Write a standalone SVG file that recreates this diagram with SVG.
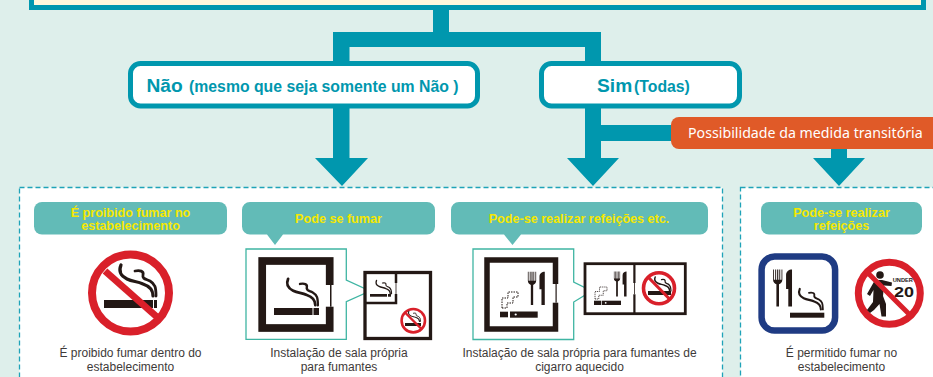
<svg xmlns="http://www.w3.org/2000/svg" width="933" height="377" viewBox="0 0 933 377">
<style>
text{font-family:"Liberation Sans",Arial,sans-serif}
.cap{font-size:12px;fill:#3e3a39;text-anchor:middle}
.hd{font-size:12.6px;font-weight:700;fill:#f5e800;text-anchor:middle}
.tag{fill:#62bbb7}
.teal{fill:#0097ae}
.opt{fill:#fff;stroke:#0097ae;stroke-width:5}
.big{font-size:19.2px;font-weight:700;fill:#0097ae}
.mid{font-size:15.8px;font-weight:700;fill:#0097ae}
.panel{fill:#fff;stroke:#1fa3b8;stroke-width:1.3;stroke-dasharray:5 3}
.k{fill:#231815}
.fr{fill:#fff;stroke:#231815}
.call{fill:#fff;stroke:#3fb5a3;stroke-width:1.3}
.ban{fill:none;stroke:#d9202a}
.smoke{fill:none;stroke:#231815;stroke-linecap:round;stroke-linejoin:round}
.dots{fill:none;stroke:#231815;stroke-width:1;stroke-dasharray:1.5 1}
</style>
<defs>
<g id="smk">
<path class="smoke" stroke-width="3.200" d="M-14-19C-17-12-14-8-8-5C-2-2 2-3 8 0C14 2 18 5 18 12"/>
<path class="smoke" stroke-width="2.800" d="M0-13C5-14 9-13 8-9C7-5 11-5 15-3C20 0 21 3 21 12"/>
</g>
<g id="fork">
<path class="k" d="M-5-20H-4.100V-9H-2.700V-20H-1.700V-9H-.6V-20H.6V-9H1.700V-20H2.700V-9H4.100V-20H5V-9C5-6 3-5 1.400-4V20H-1.400V-4C-3-5-5-6-5-9z"/>
<path class="k" d="M9-14C9-18 12-20 15.400-20V20H11.400V1H9z"/>
</g>
<path id="heat" class="dots" d="M-8 8V-2H-2V-8H8V-3H3V3H-3V8z"/>
</defs>
<rect width="933" height="377" fill="#deefeb"/>
<g id="connectors">
<rect class="teal" x="433" y="8" width="16" height="26"/>
<path class="teal" d="M333 32H601V64H585V47H349.500V64H333z"/>
<path class="teal" d="M333 104H349.500V158H368L342 186L315 158H333z"/>
<path class="teal" d="M585 104H601V125H680V141H601V158H619L593 186L567 158H585z"/>
<path class="teal" d="M831 145H847V158H865L839 186L813 158H831z"/>
</g>
<g id="top-box"><rect x="31.500" y="-20" width="892" height="27.500" fill="#fff8dc" stroke="#0097ae" stroke-width="5"/></g>
<g id="no"><rect class="opt" x="130.500" y="63.500" width="347" height="42.500" rx="10"/>
<text class="big" x="146.500" y="92">Não</text>
<text class="mid" x="189" y="92">(mesmo que seja somente um Não )</text></g>
<g id="yes"><rect class="opt" x="541.500" y="63.500" width="198" height="42.500" rx="10"/>
<text class="big" x="597" y="92">Sim</text>
<text class="mid" x="634" y="92">(Todas)</text></g>
<g id="transitional"><rect x="671" y="117" width="270" height="32" rx="8" fill="#e05a28"/>
<text x="688" y="138" font-size="14.200" fill="#fff" style="font-family:'Noto Sans',sans-serif">Possibilidade da medida transitória</text></g>
<rect class="panel" x="19.500" y="187.500" width="703" height="200"/>
<rect class="panel" x="740.500" y="187.500" width="210" height="200"/>
<g id="n1">
<rect class="tag" x="34" y="202" width="193" height="32.500" rx="8"/>
<text class="hd" x="130.500" y="217">É proibido fumar no</text>
<text class="hd" x="130.500" y="230">estabelecimento</text>
<circle cx="130.500" cy="293" r="38.500" fill="#fff" stroke="#d9202a" stroke-width="8"/>
<use href="#smk" transform="translate(135 284)"/>
<rect class="k" x="104" y="300" width="49" height="8"/><rect class="k" x="154" y="300" width="3" height="8"/>
<line x1="105" y1="271" x2="157" y2="317" stroke="#d9202a" stroke-width="7"/>
<text class="cap" x="130.500" y="357">É proibido fumar dentro do</text>
<text class="cap" x="130.500" y="371">estabelecimento</text>
</g>
<g id="n2">
<path class="tag" d="M250 202H427a8 8 0 0 1 8 8V226.500a8 8 0 0 1-8 8H283L275 245L267 234.500H250a8 8 0 0 1-8-8V210a8 8 0 0 1 8-8z"/>
<text class="hd" x="338.500" y="222.500">Pode se fumar</text>
<path class="call" d="M246 249H346.300V280L370 291L346.300 301.700V339.300H246z"/>
<rect class="fr" x="262.200" y="261" width="67.500" height="67" stroke-width="7.700"/>
<rect x="325" y="285" width="10" height="21.700" fill="#fff"/><rect class="k" x="330" y="285" width="1.500" height="21.700"/>
<use href="#smk" transform="translate(300 295)scale(.85)"/>
<rect class="k" x="274" y="308" width="38.500" height="7"/><rect class="k" x="313.500" y="308" width="5.500" height="7"/>
<rect x="365" y="272.500" width="65.500" height="66" fill="#fff" stroke="#231815" stroke-width="3.300"/>
<path d="M365 303H396V272" fill="none" stroke="#231815" stroke-width="2.500"/>
<rect x="394" y="283" width="4" height="11" fill="#fff"/><rect class="k" x="395.600" y="283" width=".8" height="11"/>
<use href="#smk" transform="translate(382.500 288.600)scale(.43)"/>
<rect class="k" x="370" y="294" width="17" height="2.700"/><rect class="k" x="388" y="294" width="3" height="2.700"/>
<circle class="ban" cx="413.300" cy="320.700" r="11.700" stroke-width="2.600"/>
<use href="#smk" transform="translate(413.500 317.500)scale(.33)"/>
<rect class="k" x="405" y="323" width="16" height="3"/>
<line x1="405" y1="312.500" x2="421.500" y2="329" stroke="#d9202a" stroke-width="2.400"/>
<text class="cap" x="339" y="357">Instalação de sala própria</text>
<text class="cap" x="339" y="371">para fumantes</text>
</g>
<g id="n3">
<path class="tag" d="M459 202H700a8 8 0 0 1 8 8V226.500a8 8 0 0 1-8 8H521L512.500 245L504 234.500H459a8 8 0 0 1-8-8V210a8 8 0 0 1 8-8z"/>
<text class="hd" x="579" y="222.500">Pode-se realizar refeições etc.</text>
<path class="call" d="M473 249H573.700V282L591.700 291L573.700 302V339.500H473z"/>
<rect class="fr" x="487" y="260" width="68.500" height="69" stroke-width="5.500"/>
<rect x="552" y="284" width="8" height="18.700" fill="#fff"/><rect class="k" x="555.500" y="284" width="1.200" height="18.700"/>
<use href="#fork" transform="translate(532 288.300)scale(.83)"/>
<use href="#heat" transform="translate(510 300)"/>
<rect class="k" x="500" y="311.700" width="8" height="5.600"/><rect class="k" x="510" y="311.500" width="27.700" height="6.200"/>
<circle cx="515.700" cy="314.500" r="1.100" fill="#fff"/>
<rect class="fr" x="585" y="263.700" width="100.300" height="50" stroke-width="2.800"/>
<rect class="k" x="633.300" y="263" width="2.200" height="51"/>
<rect x="633" y="283" width="3" height="11.300" fill="#fff"/><rect class="k" x="634" y="283" width=".8" height="11.300"/>
<use href="#fork" transform="translate(617 284)scale(.62)"/>
<use href="#heat" transform="translate(601 293)scale(.75)"/>
<rect class="k" x="594" y="300.700" width="7" height="4.300"/><rect class="k" x="601.700" y="300.700" width="19.300" height="4.300"/>
<circle cx="605.700" cy="302.800" r=".9" fill="#fff"/>
<circle class="ban" cx="659" cy="288.300" r="15.500" stroke-width="3.600"/>
<use href="#smk" transform="translate(661.500 285.500)scale(.45)"/>
<rect class="k" x="648" y="291" width="23" height="4"/>
<line x1="648" y1="277" x2="670" y2="299.500" stroke="#d9202a" stroke-width="3.200"/>
<text class="cap" x="579.500" y="357">Instalação de sala própria para fumantes de</text>
<text class="cap" x="579.500" y="371">cigarro aquecido</text>
</g>
<g id="n4">
<rect class="tag" x="761" y="202" width="161" height="32.500" rx="8"/>
<text class="hd" x="841.500" y="217">Pode-se realizar</text>
<text class="hd" x="841.500" y="230">refeições</text>
<rect x="761.600" y="256.600" width="73.500" height="74" rx="13" fill="#fff" stroke="#1f3b83" stroke-width="6.500"/>
<use href="#fork" transform="translate(777.700 288)scale(.93)"/>
<use href="#smk" transform="translate(809 301.500)scale(.66)"/>
<rect class="k" x="790" y="312.700" width="34.300" height="5"/>
<circle cx="889.300" cy="293.300" r="31" fill="#fff" stroke="#d9202a" stroke-width="7"/>
<circle class="k" cx="880" cy="275" r="3.800"/>
<path class="k" d="M875 280L882 280L892 282.500L891.500 286L884 285.500L883 296L886 304L886 316.500L881.500 316.500L879.500 304L874 310L870 313L867 310L873 302L873.500 290L870 296L867 294z"/>
<text x="892.700" y="281.800" font-size="5.700" font-weight="700" fill="#231815">UNDER</text>
<text x="894" y="297" font-size="15" font-weight="700" fill="#231815" textLength="20" lengthAdjust="spacingAndGlyphs">20</text>
<line x1="866.700" y1="271.700" x2="910" y2="315" stroke="#d9202a" stroke-width="5"/>
<text class="cap" x="841.500" y="357">É permitido fumar no</text>
<text class="cap" x="841.500" y="371">estabelecimento</text>
</g>
</svg>
